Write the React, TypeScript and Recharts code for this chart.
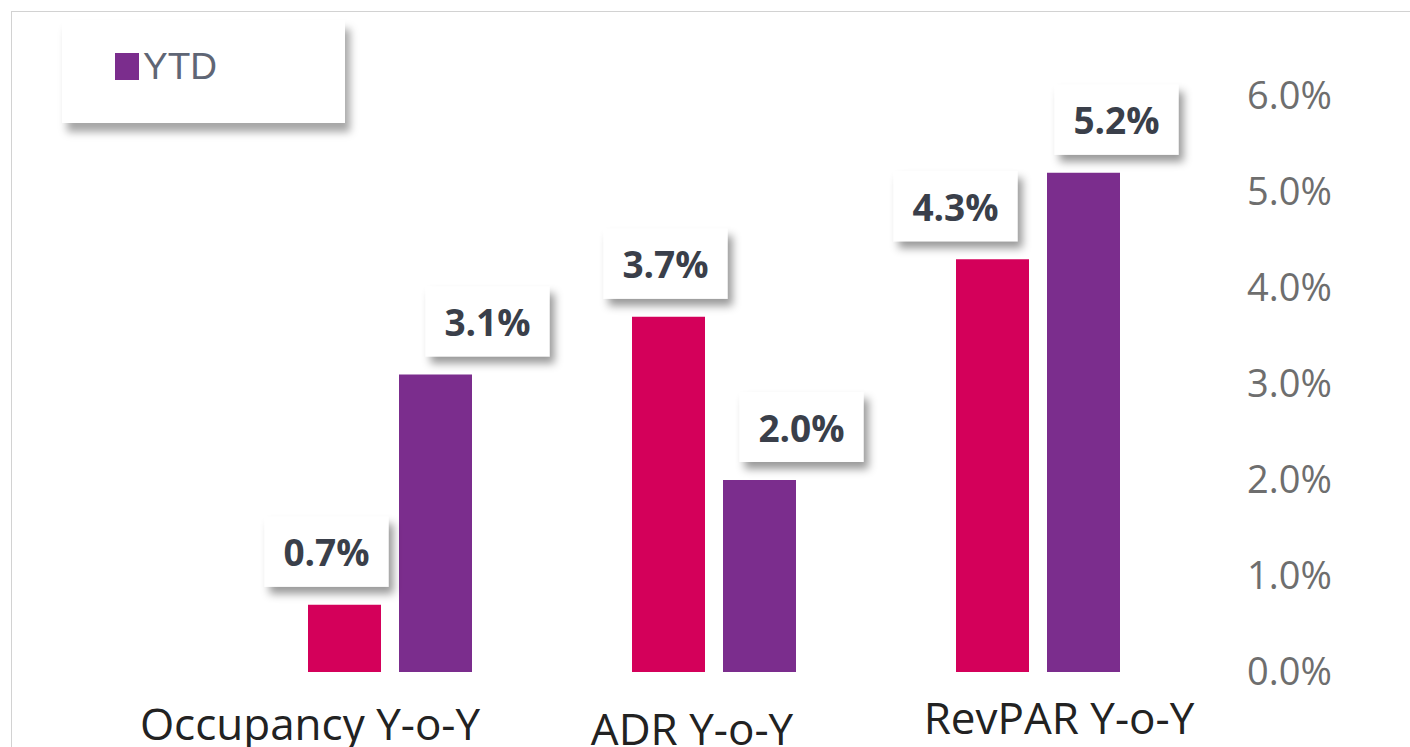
import { BarChart, Bar, XAxis, YAxis, Legend, LabelList } from "recharts";

const categories = ["Occupancy Y-o-Y", "ADR Y-o-Y", "RevPAR Y-o-Y"];
const monthValues = [0.7, 3.7, 4.3];
const ytdValues = [3.1, 2.0, 5.2];
const yTicks = [0, 1, 2, 3, 4, 5, 6];

const data = categories.map((name, i) => ({ name, month: monthValues[i], ytd: ytdValues[i] }));

const RED = "#d4005a";
const PURPLE = "#7b2d8d";
const FONT = "'Open Sans', 'DejaVu Sans', sans-serif";

// the excel labels were dragged around by hand, so each sits a bit off its bar
const labelShift: Record<string, number[]> = { month: [-18, -3, -37], ytd: [52, 42, 33] };
const catShift = [
    { dx: -80, dy: 68 },
    { dx: -22, dy: 73 },
    { dx: 21, dy: 62 },
];

function boxLabel(key: string) {
    return (props: any) => {
        const { x, y, width, value, index } = props;
        const i = typeof index === "number" ? index : 0;
        const cx = Number(x) + Number(width) / 2 + (labelShift[key][i] || 0);
        const cy = Number(y) - 53;
        return (
            <g>
                <rect x={cx - 62} y={cy - 35} width={124} height={70} fill="#fff" filter="url(#boxShadow)" />
                <text x={cx} y={cy} textAnchor="middle" dominantBaseline="central"
                    fontFamily={FONT} fontWeight={700} fontSize={37} fill="#3a3f4a">
                    {Number(value).toFixed(1)}%
                </text>
            </g>
        );
    };
}

function CategoryTick(props: any) {
    const { x, y, payload, index } = props;
    const s = catShift[index] || { dx: 0, dy: 60 };
    return (
        <text x={x + s.dx} y={y + s.dy} textAnchor="middle" fontFamily={FONT} fontSize={44} fill="#222">
            {payload.value}
        </text>
    );
}

function YtdLegend() {
    return (
        <div style={{
            width: 283, height: 103, background: "#fff",
            boxShadow: "5px 9px 8px rgba(0,0,0,0.35)",
            display: "flex", alignItems: "center", boxSizing: "border-box", paddingLeft: 53,
        }}>
            <span style={{ display: "inline-block", width: 24, height: 27, background: PURPLE, marginRight: 4, marginTop: -10 }} />
            <span style={{ fontFamily: "'Liberation Sans', Arial, sans-serif", fontSize: 37, color: "#5f6675", marginTop: -10 }}>YTD</span>
        </div>
    );
}

export default function App() {
    return (
        <div style={{ position: "fixed", left: 0, top: 0, width: 1410, height: 747, background: "#fff", overflow: "hidden" }}>
            <div style={{ position: "absolute", left: 11, top: 11, right: 0, bottom: 0, borderTop: "1px solid #d2d2d2", borderLeft: "1px solid #d2d2d2" }} />
            <BarChart width={1410} height={747} data={data} barSize={73} barGap={18}
                margin={{ top: 96, right: 60, left: 228, bottom: 0 }}
                style={{ position: "absolute", left: 0, top: 0 }}>
                <defs>
                    <filter id="boxShadow" x="-20%" y="-20%" width="150%" height="160%">
                        <feDropShadow dx={5} dy={7} stdDeviation={4} floodColor="#000" floodOpacity={0.4} />
                    </filter>
                </defs>
                <XAxis dataKey="name" axisLine={false} tickLine={false} tickSize={0} tickMargin={0}
                    height={75} interval={0} tick={<CategoryTick />} />
                <YAxis orientation="right" domain={[0, 6]} ticks={yTicks} axisLine={false} tickLine={false}
                    tickSize={6} tickMargin={41} width={150}
                    tickFormatter={(v: number) => `${v.toFixed(1)}%`}
                    tick={{ fontFamily: FONT, fontSize: 38, fill: "#6e6e6e", textAnchor: "start" }} />
                <Legend layout="vertical" align="center" verticalAlign="middle" content={<YtdLegend />}
                    wrapperStyle={{ position: "absolute", left: 62, top: 20, width: 283, height: 103 }} />
                <Bar dataKey="month" name="Month" fill={RED} isAnimationActive={false}>
                    <LabelList dataKey="month" content={boxLabel("month")} />
                </Bar>
                <Bar dataKey="ytd" name="YTD" fill={PURPLE} isAnimationActive={false}>
                    <LabelList dataKey="ytd" content={boxLabel("ytd")} />
                </Bar>
            </BarChart>
        </div>
    );
}
